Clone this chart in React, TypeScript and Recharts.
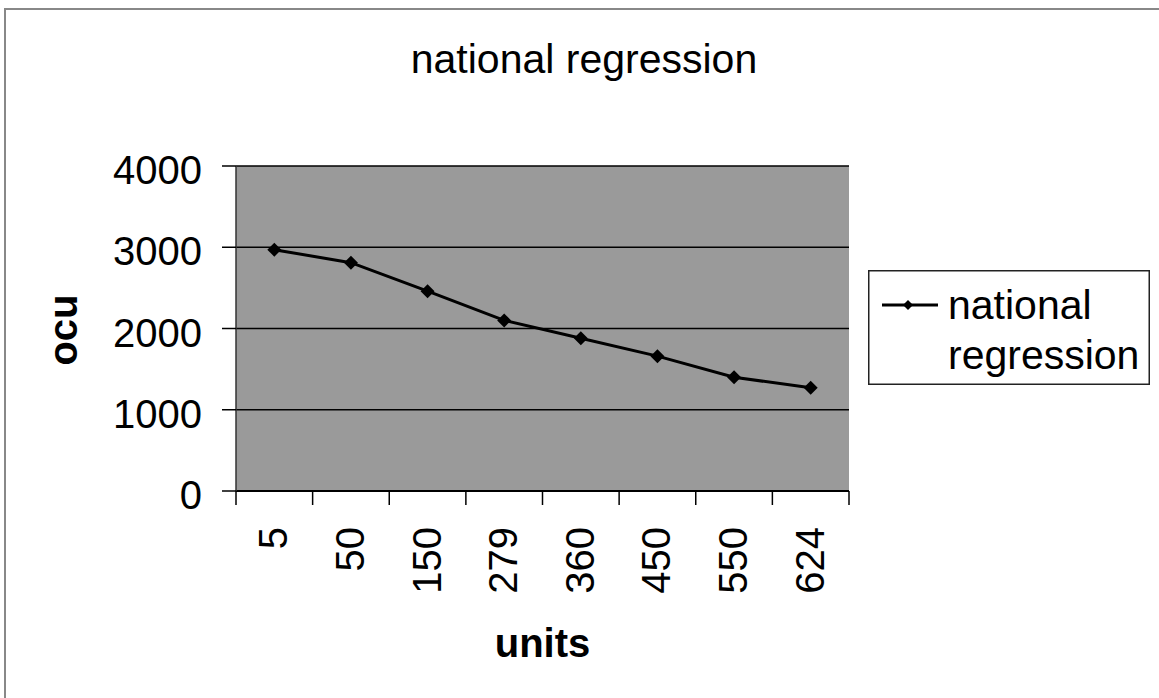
import React from 'react';
import { LineChart, Line, XAxis, YAxis, CartesianGrid, Legend } from 'recharts';

const categories = ['5', '50', '150', '279', '360', '450', '550', '624'];
const seriesValues = [2970, 2810, 2460, 2100, 1880, 1660, 1400, 1270];
const yTicks = [0, 1000, 2000, 3000, 4000];
const seriesName = 'national regression';
const chartTitle = 'national regression';
const xAxisTitle = 'units';
const yAxisTitle = 'ocu';

const data = categories.map((c, i) => ({ units: c, value: seriesValues[i] }));

const W = 1159;
const H = 698;
const MARGIN = { top: 166, right: 310, bottom: 0, left: 0 };
const Y_AXIS_W = 236;
const X_AXIS_H = 207;
const FONT = '"Liberation Sans", Arial, sans-serif';
const BAND = (W - MARGIN.left - MARGIN.right - Y_AXIS_W) / categories.length;

const XTick = (props: any) => {
  const { x, y, payload, index } = props;
  const axisY = y - 36;
  const isLast = index === categories.length - 1;
  return (
    <g>
      <line x1={x - BAND / 2} x2={x - BAND / 2} y1={axisY} y2={axisY + 14} stroke="#000" strokeWidth={1.5} />
      {isLast && (
        <line x1={x + BAND / 2} x2={x + BAND / 2} y1={axisY} y2={axisY + 14} stroke="#000" strokeWidth={1.5} />
      )}
      <text
        x={x + 13}
        y={y}
        transform={`rotate(-90, ${x + 13}, ${y})`}
        textAnchor="end"
        fontSize={40}
        fontFamily={FONT}
        fill="#000"
      >
        {payload.value}
      </text>
    </g>
  );
};

const YTick = (props: any) => {
  const { x, y, payload } = props;
  return (
    <text x={x} y={y + 18} textAnchor="end" fontSize={40} fontFamily={FONT} fill="#000">
      {payload.value}
    </text>
  );
};

const Diamond = (props: any) => {
  const { cx, cy, index } = props;
  const r = 7;
  return (
    <path
      key={`d-${index}`}
      d={`M${cx},${cy - r}L${cx + r},${cy}L${cx},${cy + r}L${cx - r},${cy}Z`}
      fill="#000"
    />
  );
};

const LegendBox = () => (
  <svg width={282} height={115} style={{ display: 'block' }}>
    <rect x={0.75} y={0.75} width={280.5} height={113.5} fill="#fff" stroke="#222" strokeWidth={1.5} />
    <line x1={14} x2={70} y1={35} y2={35} stroke="#000" strokeWidth={3} />
    <path d="M40,30L45,35L40,40L35,35Z" fill="#000" />
    <text x={80} y={49} fontSize={41} fontFamily={FONT} fill="#000">national</text>
    <text x={80} y={99} fontSize={41} fontFamily={FONT} fill="#000">regression</text>
  </svg>
);

export default function App() {
  return (
    <div style={{ position: 'absolute', left: 0, top: 0, width: W, height: H, background: '#fff' }}>
      <LineChart width={W} height={H} data={data} margin={MARGIN}>
        <CartesianGrid vertical={false} horizontal={true} stroke="#000" strokeWidth={1.5} fill="#9a9a9a" fillOpacity={1} />
        <XAxis
          dataKey="units"
          type="category"
          height={X_AXIS_H}
          padding={{ left: BAND / 2, right: BAND / 2 }}
          axisLine={{ stroke: '#000', strokeWidth: 2 }}
          tickLine={false}
          tickSize={14}
          tickMargin={22}
          interval={0}
          tick={<XTick />}
          label={{
            content: (p: any) => (
              <text
                x={p.viewBox.x + p.viewBox.width / 2}
                y={p.viewBox.y + 166}
                textAnchor="middle"
                fontSize={40}
                fontWeight="bold"
                fontFamily={FONT}
                fill="#000"
              >
                {xAxisTitle}
              </text>
            ),
          }}
        />
        <YAxis
          domain={[0, 4000]}
          ticks={yTicks}
          width={Y_AXIS_W}
          axisLine={{ stroke: '#333', strokeWidth: 1.5 }}
          tickLine={{ stroke: '#000', strokeWidth: 1.5 }}
          tickSize={14}
          tickMargin={20}
          tick={<YTick />}
          label={{
            content: () => (
              <text
                x={77}
                y={330}
                transform="rotate(-90, 77, 330)"
                textAnchor="middle"
                fontSize={40}
                fontWeight="bold"
                fontFamily={FONT}
                fill="#000"
              >
                {yAxisTitle}
              </text>
            ),
          }}
        />
        <YAxis
          yAxisId="right"
          orientation="right"
          domain={[0, 4000]}
          width={0}
          tick={false}
          tickLine={false}
          axisLine={{ stroke: '#555', strokeWidth: 1.5 }}
        />
        <Legend
          layout="vertical"
          align="center"
          verticalAlign="middle"
          content={<LegendBox />}
          wrapperStyle={{ left: 868, top: 270, width: 282, height: 115 }}
        />
        <Line
          type="linear"
          dataKey="value"
          name={seriesName}
          stroke="#000"
          strokeWidth={3}
          dot={<Diamond />}
          activeDot={false}
          isAnimationActive={false}
        />
      </LineChart>
      <svg
        width={W}
        height={H}
        style={{ position: 'absolute', left: 0, top: 0, pointerEvents: 'none' }}
      >
        <line x1={4} x2={W} y1={9} y2={9} stroke="#888" strokeWidth={2} />
        <line x1={5} x2={5} y1={9} y2={H} stroke="#888" strokeWidth={2} />
        <text x={584} y={73} textAnchor="middle" fontSize={41} fontFamily={FONT} fill="#000">
          {chartTitle}
        </text>
      </svg>
    </div>
  );
}
